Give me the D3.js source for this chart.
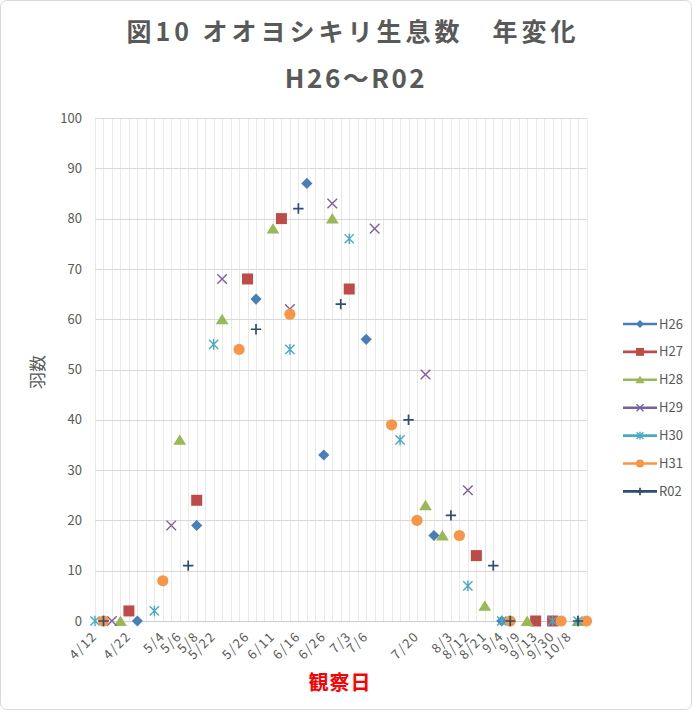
<!DOCTYPE html>
<html>
<head>
<meta charset="utf-8">
<script src="https://cdn.jsdelivr.net/npm/d3@7"></script>
<style>
  html, body { margin: 0; padding: 0; background: #ffffff; }
  svg { display: block; }
  text { font-family: "Noto Sans CJK JP", "Noto Sans", sans-serif; }
</style>
</head>
<body>
<svg id="chart" width="692" height="711"></svg>
<script>
// Observation dates (one category per survey day; unlabeled days are blank)
const categories = [
  "4/12", "", "", "", "4/22", "", "", "", "5/4", "",
  "5/6", "", "5/8", "", "5/22", "", "", "", "5/26", "",
  "", "6/11", "", "", "6/16", "", "", "6/26", "", "",
  "7/3", "", "7/6", "", "", "", "", "", "7/20", "",
  "", "", "8/3", "", "8/12", "", "8/21", "", "9/4", "",
  "9/9", "", "9/13", "", "9/30", "", "10/8", "", ""
];

const _ = null;
const seriesNames = ["H26", "H27", "H28", "H29", "H30", "H31", "R02"];

const H26 = [
  _, _, _, _, _, 0, _, _, _, _,
  _, _, 19, _, _, _, _, _, _, 64,
  _, _, _, _, _, 87, _, 33, _, _,
  _, _, 56, _, _, _, _, _, _, _,
  17, _, _, _, _, _, _, _, 0, _,
  _, _, _, _, _, _, _, _, _
];
const H27 = [
  _, _, _, _, 2, _, _, _, _, _,
  _, _, 24, _, _, _, _, _, 68, _,
  _, _, 80, _, _, _, _, _, _, _,
  66, _, _, _, _, _, _, _, _, _,
  _, _, _, _, _, 13, _, _, _, _,
  _, _, 0, _, 0, _, _, _, _
];
const H28 = [
  _, _, _, 0, _, _, _, _, _, _,
  36, _, _, _, _, 60, _, _, _, _,
  _, 78, _, _, _, _, _, _, 80, _,
  _, _, _, _, _, _, _, _, _, 23,
  _, 17, _, _, _, _, 3, _, _, _,
  _, 0, _, _, _, _, _, 0, _
];
const H29 = [
  _, _, 0, _, _, _, _, _, _, 19,
  _, _, _, _, _, 68, _, _, _, _,
  _, _, _, 62, _, _, _, _, 83, _,
  _, _, _, 78, _, _, _, _, _, 49,
  _, _, _, _, 26, _, _, _, _, _,
  _, _, _, _, _, _, _, _, _
];
const H30 = [
  0, _, _, _, _, _, _, 2, _, _,
  _, _, _, _, 55, _, _, _, _, _,
  _, _, _, 54, _, _, _, _, _, _,
  76, _, _, _, _, _, 36, _, _, _,
  _, _, _, _, 7, _, _, _, 0, _,
  _, _, _, _, 0, _, _, 0, _
];
const H31 = [
  _, 0, _, _, _, _, _, _, 8, _,
  _, _, _, _, _, _, _, 54, _, _,
  _, _, _, 61, _, _, _, _, _, _,
  _, _, _, _, _, 39, _, _, 20, _,
  _, _, _, 17, _, _, _, _, _, 0,
  _, _, _, _, _, 0, _, _, 0
];
const R02 = [
  _, 0, _, _, _, _, _, _, _, _,
  _, 11, _, _, _, _, _, _, _, 58,
  _, _, _, _, 82, _, _, _, _, 63,
  _, _, _, _, _, _, _, 40, _, _,
  _, _, 21, _, _, _, _, 11, _, 0,
  _, _, _, _, _, _, _, 0, _
];

const yTicks = [0, 10, 20, 30, 40, 50, 60, 70, 80, 90, 100];

const seriesValues = [H26, H27, H28, H29, H30, H31, R02];
const seriesColors = ["#4a7ebb", "#be4b48", "#98b954", "#7d5fa0", "#46aac5", "#f79646", "#2c4d75"];

// ---- custom markers (size = half extent) ----
const markX = { draw(ctx, s) { ctx.moveTo(-s, -s); ctx.lineTo(s, s); ctx.moveTo(-s, s); ctx.lineTo(s, -s); } };
const markStar = { draw(ctx, s) {
  ctx.moveTo(-s, -s); ctx.lineTo(s, s); ctx.moveTo(-s, s); ctx.lineTo(s, -s);
  ctx.moveTo(0, -s * 1.15); ctx.lineTo(0, s * 1.15);
} };
const markPlus = { draw(ctx, s) { ctx.moveTo(-s, 0); ctx.lineTo(s, 0); ctx.moveTo(0, -s); ctx.lineTo(0, s); } };
const markDiamond = { draw(ctx, s) { ctx.moveTo(0, -s); ctx.lineTo(s, 0); ctx.lineTo(0, s); ctx.lineTo(-s, 0); ctx.closePath(); } };
const markSquare = { draw(ctx, s) { ctx.rect(-s, -s, 2 * s, 2 * s); } };
const markTriangle = { draw(ctx, s) { ctx.moveTo(0, -s * 0.95); ctx.lineTo(s * 1.1, s * 0.85); ctx.lineTo(-s * 1.1, s * 0.85); ctx.closePath(); } };
const markCircle = { draw(ctx, s) { ctx.moveTo(s, 0); ctx.arc(0, 0, s, 0, 2 * Math.PI); } };

const markerSpec = [
  { type: markDiamond, size: 5.6, filled: true },
  { type: markSquare, size: 5.5, filled: true },
  { type: markTriangle, size: 5.8, filled: true },
  { type: markX, size: 4.8, filled: false, width: 1.4 },
  { type: markStar, size: 4.6, filled: false, width: 1.4 },
  { type: markCircle, size: 5.6, filled: true },
  { type: markPlus, size: 5.2, filled: false, width: 1.7 }
];

const svg = d3.select("#chart");

// chart border
svg.append("rect")
  .attr("x", 0.5).attr("y", 0.5).attr("width", 691).attr("height", 709)
  .attr("rx", 6).attr("fill", "#ffffff").attr("stroke", "#d9d9d9");

const plot = { left: 95, right: 586.5, top: 118, bottom: 621 };

const x = d3.scaleLinear().domain([0, categories.length - 1]).range([plot.left, plot.right]);
const y = d3.scaleLinear().domain([0, 100]).range([plot.bottom, plot.top]);

// vertical gridlines, one per category
svg.append("g")
  .selectAll("line")
  .data(d3.range(categories.length))
  .join("line")
  .attr("x1", d => Math.round(x(d)) + 0.5).attr("x2", d => Math.round(x(d)) + 0.5)
  .attr("y1", plot.top).attr("y2", plot.bottom)
  .attr("stroke", "#e9e9e9").attr("stroke-width", 1);

// horizontal gridlines
svg.append("g")
  .selectAll("line")
  .data(yTicks)
  .join("line")
  .attr("x1", plot.left).attr("x2", plot.right)
  .attr("y1", d => Math.round(y(d)) + 0.5).attr("y2", d => Math.round(y(d)) + 0.5)
  .attr("stroke", d => d === 0 ? "#cfcfcf" : "#d9d9d9").attr("stroke-width", 1);

// y axis labels
const yAxis = svg.append("g")
  .attr("transform", `translate(${plot.left - 13},0)`)
  .call(d3.axisLeft(y).tickValues(yTicks).tickSize(0).tickPadding(0));
yAxis.select(".domain").remove();
yAxis.selectAll("text")
  .attr("fill", "#595959").attr("font-size", 13)
  .attr("font-family", "'Noto Sans', sans-serif");

// x axis labels, rotated
const xAxis = svg.append("g")
  .attr("transform", `translate(0,${plot.bottom})`)
  .call(d3.axisBottom(x)
    .tickValues(d3.range(categories.length).filter(i => categories[i] !== ""))
    .tickFormat(i => categories[i])
    .tickSize(0));
xAxis.select(".domain").remove();
xAxis.selectAll("text")
  .attr("fill", "#595959").attr("font-size", 13)
  .attr("letter-spacing", 1.5)
  .attr("font-family", "'Noto Sans', sans-serif")
  .attr("text-anchor", "end")
  .attr("dy", 0).attr("y", 0)
  .attr("transform", "translate(2.5,16) rotate(-45)");

// data markers, drawn series by series
const symbolGen = d3.symbol();
seriesValues.forEach((vals, si) => {
  const spec = markerSpec[si];
  const pts = vals.map((v, i) => ({ i, v })).filter(d => d.v !== null);
  svg.append("g")
    .selectAll("path")
    .data(pts)
    .join("path")
    .attr("transform", d => `translate(${x(d.i)},${y(d.v)})`)
    .attr("d", symbolGen.type(spec.type).size(spec.size)())
    .attr("fill", spec.filled ? seriesColors[si] : "none")
    .attr("stroke", spec.filled ? "none" : seriesColors[si])
    .attr("stroke-width", spec.width || 0);
});

// legend
const legend = svg.append("g");
seriesNames.forEach((name, si) => {
  const spec = markerSpec[si];
  const ly = 324 + si * 27.9;
  legend.append("line")
    .attr("x1", 623).attr("x2", 657).attr("y1", ly).attr("y2", ly)
    .attr("stroke", seriesColors[si]).attr("stroke-width", 2.6);
  legend.append("path")
    .attr("transform", `translate(640,${ly})`)
    .attr("d", d3.symbol().type(spec.type).size(spec.size * 0.72)())
    .attr("fill", spec.filled ? seriesColors[si] : "none")
    .attr("stroke", spec.filled ? "none" : seriesColors[si])
    .attr("stroke-width", spec.width || 0);
  legend.append("text")
    .attr("x", 659).attr("y", ly + 4.5)
    .attr("fill", "#595959").attr("font-size", 13)
    .attr("font-family", "'Noto Sans', sans-serif")
    .text(name);
});

// titles
svg.append("text")
  .attr("x", 353).attr("y", 41)
  .attr("text-anchor", "middle")
  .attr("fill", "#595959").attr("font-size", 25).attr("font-weight", "bold")
  .attr("letter-spacing", 4)
  .text("図10 オオヨシキリ生息数　年変化");
svg.append("text")
  .attr("x", 356).attr("y", 88)
  .attr("text-anchor", "middle")
  .attr("fill", "#595959").attr("font-size", 26).attr("font-weight", "bold")
  .attr("letter-spacing", 2.5)
  .text("H26～R02");

// axis titles
svg.append("text")
  .attr("transform", "translate(44,372) rotate(-90)")
  .attr("text-anchor", "middle")
  .attr("fill", "#595959").attr("font-size", 17)
  .text("羽数");
svg.append("text")
  .attr("x", 340).attr("y", 690)
  .attr("text-anchor", "middle")
  .attr("fill", "#ff0000").attr("font-size", 20).attr("font-weight", "bold")
  .attr("letter-spacing", 1)
  .text("観察日");
</script>
</body>
</html>
